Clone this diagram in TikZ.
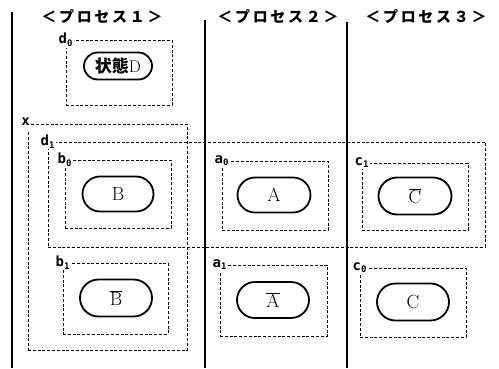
\documentclass[tikz,border=0pt]{standalone}
\usepackage{fontspec}
\usetikzlibrary{shapes.misc}
\newfontfamily\cjk{Noto Sans CJK JP}
\newfontfamily\cjkhead{Noto Sans CJK JP}[LetterSpace=18]
\newfontfamily\lblfont{DejaVu Sans Mono}
\newcommand\boxlbl[2]{{\lblfont\bfseries #1\raisebox{-0.35ex}{\fontsize{9}{9}\selectfont #2}}}
\begin{document}
\begin{tikzpicture}[x=1pt,y=-1pt,
  sep/.style={line width=1.2pt},
  dbox/.style={draw, dash pattern=on 3pt off 1.8pt, line width=1pt, inner sep=0pt},
  state/.style={draw, rounded rectangle, line width=1.8pt, inner sep=0pt,
                font=\fontsize{19}{19}\selectfont},
  lbl/.style={fill=white, inner sep=1.3pt, font=\fontsize{14}{14}\selectfont},
  head/.style={font=\cjkhead\bfseries\fontsize{15}{15}\selectfont}]
\useasboundingbox (0,0) rectangle (499,368);

% column separators
\coordinate (s1t) at (12,12);  \coordinate (s1b) at (12,368);
\coordinate (s2t) at (205,20); \coordinate (s2b) at (205,368);
\coordinate (s3t) at (347,22); \coordinate (s3b) at (347,368);
\draw[sep] (s1t) -- (s1b);
\draw[sep] (s2t) -- (s2b);
\draw[sep] (s3t) -- (s3b);

% headers
\node[head] (h1) at (102,17) {＜プロセス１＞};
\node[head] (h2) at (278,17) {＜プロセス２＞};
\node[head] (h3) at (426,17) {＜プロセス３＞};

% dashed boxes
\node[dbox, minimum width=106, minimum height=65]  (bd0) at (119,72.5) {};
\node[dbox, minimum width=159, minimum height=226] (bx)  at (107.5,237) {};
\node[dbox, minimum width=437, minimum height=105] (bd1) at (266.5,194.5) {};
\node[dbox, minimum width=106, minimum height=68]  (bb0) at (118,194) {};
\node[dbox, minimum width=105, minimum height=71]  (bb1) at (115.5,298.5) {};
\node[dbox, minimum width=106, minimum height=69]  (ba0) at (275,195.5) {};
\node[dbox, minimum width=107, minimum height=71]  (ba1) at (273.5,300.5) {};
\node[dbox, minimum width=106, minimum height=67]  (bc1) at (415,196.5) {};
\node[dbox, minimum width=106, minimum height=69]  (bc0) at (413,302.5) {};

% box labels
\node[lbl] (ld0) at (bd0.north west) {\boxlbl{d}{0}};
\node[lbl] (lx)  at ([xshift=-2pt]bx.north west) {\boxlbl{x}{}};
\node[lbl] (ld1) at (bd1.north west) {\boxlbl{d}{1}};
\node[lbl] (lb0) at (bb0.north west) {\boxlbl{b}{0}};
\node[lbl] (lb1) at (bb1.north west) {\boxlbl{b}{1}};
\node[lbl] (la0) at (ba0.north west) {\boxlbl{a}{0}};
\node[lbl] (la1) at (ba1.north west) {\boxlbl{a}{1}};
\node[lbl] (lc1) at (bc1.north west) {\boxlbl{c}{1}};
\node[lbl] (lc0) at (bc0.north west) {\boxlbl{c}{0}};

% states
\node[state, minimum width=68, minimum height=27, font=\fontsize{17}{17}\selectfont] (sD) at (118,66) {{\cjk\bfseries 状態}D};
\node[state, minimum width=71, minimum height=35] (sB) at (118,194) {B};
\node[state, minimum width=72, minimum height=37] (sBb) at (116,298) {$\overline{\mathrm{B}}$};
\node[state, minimum width=73, minimum height=35] (sA) at (274,195) {A};
\node[state, minimum width=72, minimum height=36] (sAb) at (273,300) {$\overline{\mathrm{A}}$};
\node[state, minimum width=73, minimum height=37] (sCb) at (415,196) {$\overline{\mathrm{C}}$};
\node[state, minimum width=72, minimum height=37] (sC) at (413,302) {C};
\end{tikzpicture}
\end{document}
